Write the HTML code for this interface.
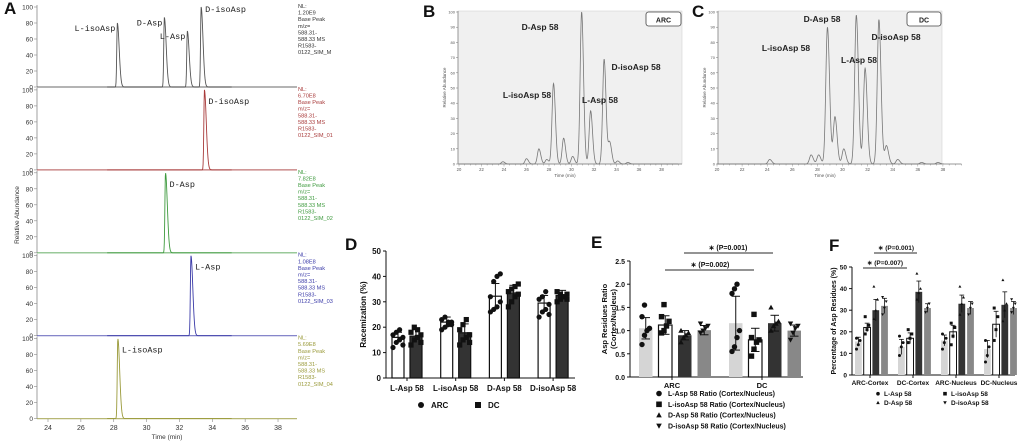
<!DOCTYPE html>
<html><head><meta charset="utf-8">
<style>
html,body{margin:0;padding:0;background:#fff;}
svg{display:block;font-family:"Liberation Sans",Arial,sans-serif;}
</style></head>
<body>
<svg id="fig" width="1020" height="444" viewBox="0 0 1020 444" xmlns="http://www.w3.org/2000/svg"></svg>
<script>
// ---------- Panel A data ----------
const aTraceNames = ["merged","d-isoasp","d-asp","l-asp","l-isoasp"];
const aColors = ["#555","#a83a3a","#3e9a3e","#3a3aa8","#9a9a3a"];
const aNL = ["1.20E9","6.70E8","7.82E8","1.08E8","5.69E8"];
const aSuffix = ["M","01","02","03","04"];
const aPeakTimes = [[28.22,31.08,32.48,33.32],[33.52],[31.15],[32.7],[28.25]];
const aPeakHeights = [[80,87,70,100],[100],[100],[100],[100]];
const aPeakLabels = [["L-isoAsp","D-Asp","L-Asp","D-isoAsp"],["D-isoAsp"],["D-Asp"],["L-Asp"],["L-isoAsp"]];
const aXTicks = [24,26,28,30,32,34,36,38];
const aYTicks = [0,20,40,60,80,100];
// ---------- Panel B/C data ----------
const bTimes = [23.9,26.0,27.1,27.8,28.4,29.3,30.1,30.9,31.7,32.9,33.4,34.1,35.0];
const bHeights = [1.5,3.5,10,3,53,17,5,100,35,69,14,2,1];
const cTimes = [24.2,27.5,28.1,28.8,29.4,30.1,31.1,31.8,32.9,33.5,34.4,36.3,37.6];
const cHeights = [3,6,6,90,31,10,98,63,95,12,3,1,1];
const bcXTicks = [20,22,24,26,28,30,32,34,36,38];
const bcYTicks = [0,10,20,30,40,50,60,70,80,90,100];
// ---------- Panel D data ----------
const dCategories = ["L-Asp 58","L-isoAsp 58","D-Asp 58","D-isoAsp 58"];
const dARC = [16,22,32.2,29.5];
const dDC = [16.5,17.8,33.5,32.5];
const dARCerr = [2,2,5,3];
const dDCerr = [2.5,3.5,3,2];
const dARCpts = [[12,14,15,16,17,18,19,13],[19,20,21,22,23,24,22,21],[26,27,28,30,32,38,40,41],[24,26,27,29,31,32,34,25]];
const dDCpts = [[13,15,16,17,18,20,19,14],[13,15,16,17,19,21,23,14],[28,30,32,33,34,35,36,37],[30,31,32,33,34,33,32,31]];
const dYTicks = [0,10,20,30,40,50];
// ---------- Panel E data ----------
const eGroups = ["ARC","DC"];
const eSeries = ["L-Asp 58 Ratio (Cortex/Nucleus)","L-isoAsp 58 Ratio (Cortex/Nucleus)","D-Asp 58 Ratio (Cortex/Nucleus)","D-isoAsp 58 Ratio (Cortex/Nucleus)"];
const eValues = [[1.05,1.12,0.9,1.01],[1.16,0.8,1.16,1.0]];
const eErr = [[0.23,0.2,0.1,0.1],[0.58,0.25,0.17,0.12]];
const ePts = [[[0.7,0.9,1.0,1.05,1.3,1.55],[0.95,1.0,1.1,1.2,1.3,1.56],[0.75,0.85,0.9,0.95,1.0],[0.95,1.0,1.05,1.1,1.15]],
              [[0.55,0.65,0.85,1.0,1.8,1.9,2.0],[0.45,0.6,0.75,0.8,0.85,1.35],[1.0,1.1,1.15,1.2,1.5],[0.8,0.95,1.05,1.1,1.15]]];
const eYTicks = [0,0.5,1.0,1.5,2.0,2.5];
// ---------- Panel F data ----------
const fGroups = ["ARC-Cortex","DC-Cortex","ARC-Nucleus","DC-Nucleus"];
const fSeries = ["L-Asp 58","L-isoAsp 58","D-Asp 58","D-isoAsp 58"];
const fValues = [[15.5,22,30,32],[13,17,38.5,31],[16,20,33,31],[12,23.5,32.5,31]];
const fErr = [[2,2,5,3.5],[3.5,2.5,5,2],[2.5,3,4,3],[4,6,6,3]];
const fPts = [[[12,14,16,17],[19,21,23,27],[26,30,35,41],[28,31,34,36]],
              [[9,13,15,18],[15,17,19,21],[35,38,40,47],[29,31,33]],
              [[12,15,17,19],[14,18,22,24],[28,33,36,41],[28,31,33]],
              [[6,9,13,16],[16,21,27,31],[25,30,33,44],[29,31,33,35]]];
const fYTicks = [0,10,20,30,40,50];

const svg = document.getElementById('fig');
const NS = "http://www.w3.org/2000/svg";
function mk(tag, attrs, parent, text){
  const e = document.createElementNS(NS, tag);
  for (const k in attrs) e.setAttribute(k, attrs[k]);
  if (text !== undefined) e.textContent = text;
  (parent || svg).appendChild(e);
  return e;
}
function grp(name){
  const g = mk('g', {});
  
  
  return g;
}
function panelLetter(ch, x, y){
  const t = mk('text', {x:x, y:y, 'font-size':17, 'font-weight':'bold', fill:'#111'}, svg, ch);
  
  
}
function peakPath(times, heights, w, t0, t1, xf, yf, wr){
  let d = "";
  for (let t = t0; t <= t1; t += 0.02) {
    let v = 0;
    for (let i = 0; i < times.length; i++) {
      const dt = t - times[i];
      const s = dt < 0 ? w : w * wr;
      v += heights[i] * Math.exp(-dt*dt/(2*s*s));
    }
    d += (d ? "L" : "M") + xf(t).toFixed(2) + "," + yf(Math.min(v,100)).toFixed(2);
  }
  return d;
}
function marker(kind, x, y, r, parent){
  let e;
  if (kind === 0) e = mk('circle', {cx:x, cy:y, r:r, fill:'#111'}, parent);
  else if (kind === 1) e = mk('rect', {x:x-r, y:y-r, width:2*r, height:2*r, fill:'#111'}, parent);
  else if (kind === 2) e = mk('polygon', {points:`${x},${y-r} ${x-r},${y+r*0.8} ${x+r},${y+r*0.8}`, fill:'#111'}, parent);
  else e = mk('polygon', {points:`${x},${y+r} ${x-r},${y-r*0.8} ${x+r},${y-r*0.8}`, fill:'#111'}, parent);
  
  
  return e;
}

// ================= Panel A =================
panelLetter('A', 4, 14);
const axL = 37, axR = 297;
const ax = t => 48 + (t - 24) * 16.43;
for (let p = 0; p < 5; p++) {
  const g = grp('chromatogram-' + aTraceNames[p]);
  const top = 7 + p * 82.9, bot = top + 80;
  const ay = v => bot - v / 100 * 80;
  mk('line', {x1:axL, y1:top-2, x2:axL, y2:bot, stroke:'#888', 'stroke-width':0.8}, g);
  mk('line', {x1:axL, y1:bot, x2:axR, y2:bot, stroke:aColors[p], 'stroke-width':1.2, opacity:0.7}, g);
  aYTicks.forEach(v => {
    mk('line', {x1:axL-3, y1:ay(v), x2:axL, y2:ay(v), stroke:'#888', 'stroke-width':0.6}, g);
    mk('text', {x:axL-4, y:ay(v)+2.5, 'font-size':6.5, 'text-anchor':'end', fill:'#333'}, g, String(v));
  });
  const path = mk('path', {d:peakPath(aPeakTimes[p], aPeakHeights[p], 0.035, 27.6, 35.2, ax, ay, 3.2), fill:'none', stroke:aColors[p], 'stroke-width':0.9}, g);
  
  
  aPeakTimes[p].forEach((t, i) => {
    const lx = p === 0 ? ax(t) - 2 : ax(t) + 4;
    const anchor = p === 0 ? 'end' : 'start';
    const ly = p === 0 ? ay(aPeakHeights[p][i]) + 8 : ay(aPeakHeights[p][i]) + 14;
    const lab = mk('text', {x: p===0 && i===3 ? ax(t)+4 : lx, y: p===0 && i===3 ? ly-3 : ly, 'font-size':8.5, 'text-anchor': p===0 && i===3 ? 'start' : anchor, fill:'#222', 'font-family':'"Liberation Mono",monospace'}, g, aPeakLabels[p][i]);
    
    
  });
  const info = ["NL:", aNL[p], "Base Peak", "m/z=", "588.31-", "588.33  MS", "R1583-", "0122_SIM_" + aSuffix[p]];
  info.forEach((s, i) => {
    mk('text', {x:298, y:top + 1 + i * 6.6, 'font-size':5.6, fill: p === 0 ? '#333' : aColors[p]}, g, s);
  });
}
{
  const g = grp('a-x-axis');
  aXTicks.forEach(t => {
    mk('line', {x1:ax(t), y1:419, x2:ax(t), y2:422, stroke:'#888', 'stroke-width':0.6}, g);
    mk('text', {x:ax(t), y:430, 'font-size':7, 'text-anchor':'middle', fill:'#333'}, g, String(t));
  });
  mk('text', {x:167, y:439, 'font-size':6.5, 'text-anchor':'middle', fill:'#333'}, g, 'Time (min)');
  mk('text', {x:0, y:0, 'font-size':6.5, 'text-anchor':'middle', fill:'#333', transform:'translate(19,215) rotate(-90)'}, g, 'Relative Abundance');
}

// ================= Panels B & C =================
function chrom(id, L, R, x20, pxPerMin, times, heights, tag, labels){
  const g = grp('chromatogram-' + id);
  const T = 11, B = 164;
  const cx = t => x20 + (t - 20) * pxPerMin;
  const cy = v => B - v / 100 * (B - 12);
  mk('rect', {x:L, y:T, width:R-L, height:B-T, fill:'#f0f0f0', stroke:'#ccc', 'stroke-width':0.5}, g);
  mk('line', {x1:L, y1:T, x2:L, y2:B, stroke:'#777', 'stroke-width':0.7}, g);
  mk('line', {x1:L, y1:B, x2:R, y2:B, stroke:'#777', 'stroke-width':0.7}, g);
  bcYTicks.forEach(v => {
    mk('line', {x1:L-2, y1:cy(v), x2:L, y2:cy(v), stroke:'#777', 'stroke-width':0.5}, g);
    mk('text', {x:L-3, y:cy(v)+1.5, 'font-size':4, 'text-anchor':'end', fill:'#555'}, g, String(v));
  });
  for (let t = 20; t <= 39.5; t += 0.5) mk('line', {x1:cx(t), y1:B, x2:cx(t), y2:B+(t%2===0?2.5:1.5), stroke:'#777', 'stroke-width':0.4}, g);
  bcXTicks.forEach(t => mk('text', {x:cx(t), y:B+7, 'font-size':4.2, 'text-anchor':'middle', fill:'#555'}, g, String(t)));
  mk('text', {x:(L+R)/2 - 5, y:B+13, 'font-size':4.5, 'text-anchor':'middle', fill:'#555'}, g, 'Time (min)');
  mk('text', {x:0, y:0, 'font-size':4.5, 'text-anchor':'middle', fill:'#555', transform:`translate(${L-12},${(T+B)/2}) rotate(-90)`}, g, 'Relative Abundance');
  const p = mk('path', {d:peakPath(times, heights, 0.13, 20, 39.5, cx, cy, 1.3), fill:'none', stroke:'#777', 'stroke-width':0.8}, g);
  
  
  const bw = tag === 'ARC' ? 35 : 34;
  mk('rect', {x:R-bw-1, y:T+1, width:bw, height:14, rx:2.5, fill:'#fff', stroke:'#444', 'stroke-width':0.8}, g);
  mk('text', {x:R-bw/2-1, y:T+11.5, 'font-size':7, 'font-weight':'bold', 'text-anchor':'middle', fill:'#222'}, g, tag);
  labels.forEach(l => {
    const t = mk('text', {x:l[1], y:l[2], 'font-size':8.5, 'font-weight':'bold', 'text-anchor':'middle', fill:'#222'}, g, l[0]);
    
    
  });
}
panelLetter('B', 423, 17);
chrom('arc', 458, 682, 459, 11.25, bTimes, bHeights, 'ARC',
  [["D-Asp 58",540,30],["L-isoAsp 58",527,98],["D-isoAsp 58",636,70],["L-Asp 58",600,103]]);
panelLetter('C', 692, 17);
chrom('dc', 718, 942, 717, 12.55, cTimes, cHeights, 'DC',
  [["D-Asp 58",822,22],["L-isoAsp 58",786,51],["L-Asp 58",859,63],["D-isoAsp 58",896,40]]);

// ================= Panel D =================
panelLetter('D', 345, 250);
{
  const g = grp('racemization-chart');
  const L = 386, B = 378, Tp = 251;
  const dy = v => B - v / 50 * (B - Tp);
  const dx = i => 407 + i * 48.7;
  mk('line', {x1:L, y1:Tp, x2:L, y2:B, stroke:'#111', 'stroke-width':1}, g);
  mk('line', {x1:L, y1:B, x2:575, y2:B, stroke:'#111', 'stroke-width':1}, g);
  dYTicks.forEach(v => {
    mk('line', {x1:L-3, y1:dy(v), x2:L, y2:dy(v), stroke:'#111', 'stroke-width':1}, g);
    mk('text', {x:L-5, y:dy(v)+3, 'font-size':8, 'font-weight':'bold', 'text-anchor':'end', fill:'#111'}, g, String(v));
  });
  mk('text', {x:0, y:0, 'font-size':8, 'font-weight':'bold', 'text-anchor':'middle', fill:'#111', transform:`translate(366,${(Tp+B)/2}) rotate(-90)`}, g, 'Racemization (%)');
  dCategories.forEach((c, i) => {
    mk('line', {x1:dx(i), y1:B, x2:dx(i), y2:B+3, stroke:'#111'}, g);
    mk('text', {x:dx(i), y:B+13, 'font-size':8, 'font-weight':'bold', 'text-anchor':'middle', fill:'#111'}, g, c);
    [[dARC, dARCerr, dARCpts, '#fff', -15, 0],[dDC, dDCerr, dDCpts, '#333', 3, 1]].forEach(s => {
      const x0 = dx(i) + s[4];
      const b = mk('rect', {x:x0, y:dy(s[0][i]), width:12, height:B-dy(s[0][i]), fill:s[3], stroke:'#111', 'stroke-width':1.2}, g);
      
      
      mk('line', {x1:x0+6, y1:dy(s[0][i]+s[1][i]), x2:x0+6, y2:dy(s[0][i]-s[1][i]), stroke:'#111', 'stroke-width':1}, g);
      mk('line', {x1:x0+2, y1:dy(s[0][i]+s[1][i]), x2:x0+10, y2:dy(s[0][i]+s[1][i]), stroke:'#111', 'stroke-width':1}, g);
      s[2][i].forEach((v, k) => marker(s[5], x0 + 1 + (k % 4) * 3.3, dy(v), 2.6, g));
    });
  });
  marker(0, 421, 405, 3, g);
  mk('text', {x:431, y:408, 'font-size':8, 'font-weight':'bold', fill:'#111'}, g, 'ARC');
  marker(1, 478, 405, 3, g);
  mk('text', {x:488, y:408, 'font-size':8, 'font-weight':'bold', fill:'#111'}, g, 'DC');
}

// ================= Panel E =================
panelLetter('E', 591, 248);
const barFills = ['#d5d5d5', '#fff', '#333', '#888'];
{
  const g = grp('asp-ratio-chart');
  const L = 630, B = 377, Tp = 261;
  const ey = v => B - v / 2.5 * (B - Tp);
  const gx = [639, 729];
  mk('line', {x1:L, y1:Tp, x2:L, y2:B, stroke:'#111'}, g);
  mk('line', {x1:L, y1:B, x2:803, y2:B, stroke:'#111'}, g);
  eYTicks.forEach(v => {
    mk('line', {x1:L-3, y1:ey(v), x2:L, y2:ey(v), stroke:'#111'}, g);
    mk('text', {x:L-5, y:ey(v)+3, 'font-size':7, 'font-weight':'bold', 'text-anchor':'end', fill:'#111'}, g, v.toFixed(1));
  });
  mk('text', {x:0, y:0, 'font-size':7.5, 'font-weight':'bold', 'text-anchor':'middle', fill:'#111', transform:`translate(607,${(Tp+B)/2}) rotate(-90)`}, g, 'Asp Residues Ratio');
  mk('text', {x:0, y:0, 'font-size':7.5, 'font-weight':'bold', 'text-anchor':'middle', fill:'#111', transform:`translate(616,${(Tp+B)/2}) rotate(-90)`}, g, '(Cortex/Nucleus)');
  eGroups.forEach((gn, gi) => {
    const cxm = gx[gi] + 33;
    mk('line', {x1:cxm, y1:B, x2:cxm, y2:B+3, stroke:'#111'}, g);
    mk('text', {x:cxm, y:B+11, 'font-size':7.5, 'font-weight':'bold', 'text-anchor':'middle', fill:'#111'}, g, gn);
    eValues[gi].forEach((v, s) => {
      const x0 = gx[gi] + s * 19.5;
      const b = mk('rect', {x:x0, y:ey(v), width:13.5, height:B-ey(v), fill:barFills[s], stroke: s===1 ? '#111' : 'none', 'stroke-width':1.2}, g);
      
      
      const e = eErr[gi][s];
      mk('line', {x1:x0+6.75, y1:ey(v+e), x2:x0+6.75, y2:ey(v-e), stroke:'#111'}, g);
      mk('line', {x1:x0+2.5, y1:ey(v+e), x2:x0+11, y2:ey(v+e), stroke:'#111'}, g);
      mk('line', {x1:x0+2.5, y1:ey(v-e), x2:x0+11, y2:ey(v-e), stroke:'#111'}, g);
      ePts[gi][s].forEach((p, k) => marker(s, x0 + 3 + (k % 4) * 2.5, ey(p), 2.7, g));
    });
  });
  mk('line', {x1:665, y1:270, x2:754, y2:270, stroke:'#555', 'stroke-width':1.2}, g);
  mk('text', {x:710, y:267, 'font-size':7, 'font-weight':'bold', 'text-anchor':'middle', fill:'#111'}, g, '\u2217 (P=0.002)');
  mk('line', {x1:684, y1:253, x2:773, y2:253, stroke:'#555', 'stroke-width':1.2}, g);
  mk('text', {x:728, y:250, 'font-size':7, 'font-weight':'bold', 'text-anchor':'middle', fill:'#111'}, g, '\u2217 (P=0.001)');
  eSeries.forEach((s, i) => {
    const y = 396 + i * 10.8;
    marker(i, 659, y - 2.5, 2.8, g);
    const t = mk('text', {x:668, y:y, 'font-size':7, 'font-weight':'bold', fill:'#111'}, g, s);
    
    
  });
}

// ================= Panel F =================
panelLetter('F', 829, 251);
{
  const g = grp('asp-percentage-chart');
  const L = 852, B = 375, Tp = 267;
  const fy = v => B - v / 50 * (B - Tp);
  const gx = [855, 898, 941, 984];
  mk('line', {x1:L, y1:Tp, x2:L, y2:B, stroke:'#111'}, g);
  mk('line', {x1:L, y1:B, x2:1015, y2:B, stroke:'#111'}, g);
  fYTicks.forEach(v => {
    mk('line', {x1:L-3, y1:fy(v), x2:L, y2:fy(v), stroke:'#111'}, g);
    mk('text', {x:L-5, y:fy(v)+2.5, 'font-size':6.5, 'font-weight':'bold', 'text-anchor':'end', fill:'#111'}, g, String(v));
  });
  mk('text', {x:0, y:0, 'font-size':7, 'font-weight':'bold', 'text-anchor':'middle', fill:'#111', transform:`translate(836,${(Tp+B)/2}) rotate(-90)`}, g, 'Percentage of Asp Residues (%)');
  fGroups.forEach((gn, gi) => {
    const cxm = gx[gi] + 15;
    mk('line', {x1:cxm, y1:B, x2:cxm, y2:B+3, stroke:'#111'}, g);
    mk('text', {x:cxm, y:B+10, 'font-size':6.5, 'font-weight':'bold', 'text-anchor':'middle', fill:'#111'}, g, gn);
    fValues[gi].forEach((v, s) => {
      const x0 = gx[gi] + s * 8.7;
      const b = mk('rect', {x:x0, y:fy(v), width:6.8, height:B-fy(v), fill:barFills[s], stroke: s===1 ? '#111' : 'none', 'stroke-width':1}, g);
      
      
      const e = fErr[gi][s];
      mk('line', {x1:x0+3.4, y1:fy(v+e), x2:x0+3.4, y2:fy(v-e), stroke:'#111', 'stroke-width':0.8}, g);
      mk('line', {x1:x0+1, y1:fy(v+e), x2:x0+5.8, y2:fy(v+e), stroke:'#111', 'stroke-width':0.8}, g);
      fPts[gi][s].forEach((p, k) => marker(s, x0 + 1.5 + (k % 3) * 1.8, fy(p), 1.5, g));
    });
  });
  mk('line', {x1:863, y1:268, x2:907, y2:268, stroke:'#555', 'stroke-width':1.2}, g);
  mk('text', {x:885, y:265, 'font-size':6.5, 'font-weight':'bold', 'text-anchor':'middle', fill:'#111'}, g, '\u2217 (P=0.007)');
  mk('line', {x1:874, y1:253, x2:917, y2:253, stroke:'#555', 'stroke-width':1.2}, g);
  mk('text', {x:896, y:250, 'font-size':6.5, 'font-weight':'bold', 'text-anchor':'middle', fill:'#111'}, g, '\u2217 (P=0.001)');
  const legPos = [[878,396],[945,396],[878,405],[945,405]];
  [0,1,2,3].forEach(i => {
    const p = legPos[i];
    marker(i, p[0], p[1] - 2.3, 1.8, g);
    const t = mk('text', {x:p[0] + 6, y:p[1], 'font-size':6.5, 'font-weight':'bold', fill:'#111'}, g, fSeries[i]);
    
    
  });
}
</script>
</body></html>
